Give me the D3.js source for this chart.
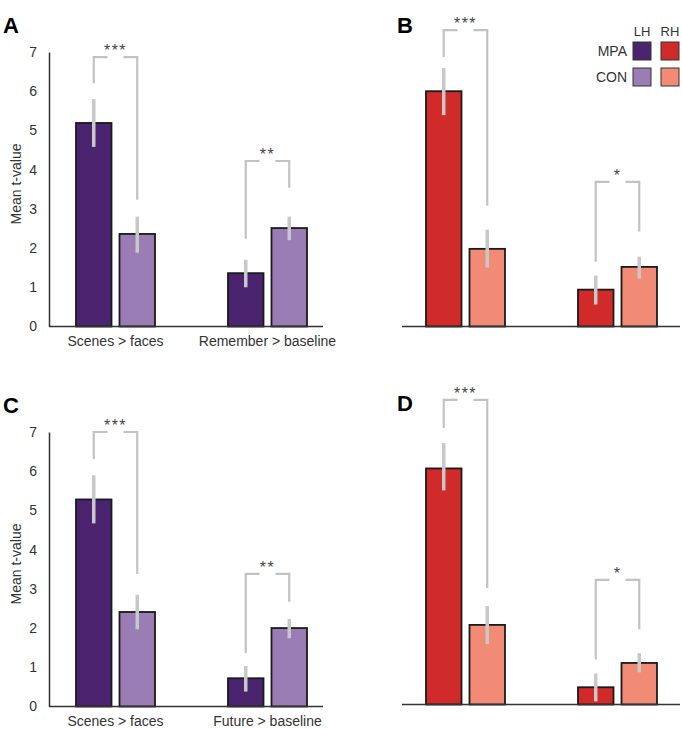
<!DOCTYPE html>
<html>
<head>
<meta charset="utf-8">
<script src="https://cdn.jsdelivr.net/npm/d3@7"></script>
<style>
  body { margin: 0; background: #fff; }
  svg { display: block; font-family: "Liberation Sans", Arial, sans-serif; }
</style>
</head>
<body>
<svg id="chart" width="682" height="729"></svg>
<script>
const groupsTop = ["Scenes > faces", "Remember > baseline"];
const groupsBottom = ["Scenes > faces", "Future > baseline"];
const conditions = ["MPA", "CON"];
const yTicks = [0, 1, 2, 3, 4, 5, 6, 7];

// mean t-values, [group 1, group 2]
const mpaA = [5.19, 1.36], conA = [2.36, 2.51];
const mpaB = [6.0, 0.94], conB = [1.98, 1.52];
const mpaC = [5.28, 0.72], conC = [2.41, 2.0];
const mpaD = [6.02, 0.44], conD = [2.03, 1.06];

// error bar extents [low, high]
const mpaErrA = [[4.58, 5.8], [1.0, 1.7]], conErrA = [[1.88, 2.8], [2.2, 2.8]];
const mpaErrB = [[5.39, 6.59], [0.56, 1.3]], conErrB = [[1.5, 2.47], [1.22, 1.78]];
const mpaErrC = [[4.67, 5.9], [0.38, 1.03]], conErrC = [[1.97, 2.85], [1.74, 2.23]];
const mpaErrD = [[5.46, 6.67], [0.08, 0.79]], conErrD = [[1.54, 2.51], [0.82, 1.31]];

// significance brackets: top, left leg end, right leg end
const sigA = [{ top: 6.87, left: 6.2, right: 3.23, label: "***" }, { top: 4.22, left: 2.24, right: 3.54, label: "**" }];
const sigB = [{ top: 7.56, left: 6.87, right: 3.08, label: "***" }, { top: 3.69, left: 1.65, right: 2.42, label: "*" }];
const sigC = [{ top: 7.0, left: 6.31, right: 3.38, label: "***" }, { top: 3.38, left: 1.36, right: 2.67, label: "**" }];
const sigD = [{ top: 7.77, left: 7.05, right: 2.97, label: "***" }, { top: 3.18, left: 1.15, right: 1.92, label: "*" }];

const colors = {
  LH: { MPA: "#4b2470", CON: "#9a7db5" },
  RH: { MPA: "#d12a2a", CON: "#f18b75" }
};

const panels = [
  { id: "A", dx: 0, dy: 0, hemi: "LH", axis: true, groups: groupsTop, mpa: mpaA, con: conA, mpaErr: mpaErrA, conErr: conErrA, sig: sigA },
  { id: "B", dx: 350, dy: 0, hemi: "RH", axis: false, groups: groupsTop, mpa: mpaB, con: conB, mpaErr: mpaErrB, conErr: conErrB, sig: sigB },
  { id: "C", dx: 0, dy: 380, hemi: "LH", axis: true, groups: groupsBottom, mpa: mpaC, con: conC, mpaErr: mpaErrC, conErr: conErrC, sig: sigC },
  { id: "D", dx: 350, dy: 378, hemi: "RH", axis: false, groups: groupsBottom, mpa: mpaD, con: conD, mpaErr: mpaErrD, conErr: conErrD, sig: sigD }
];

const svg = d3.select("#chart");
svg.append("rect").attr("width", 682).attr("height", 729).attr("fill", "#fff");

const y = d3.scaleLinear().domain([0, 7]).range([326.5, 52]);

panels.forEach(drawPanel);

function drawPanel(p) {
  const g = svg.append("g").attr("transform", `translate(${p.dx},${p.dy})`);

  const gx = d3.scalePoint().domain(p.groups).range([115.5, 267.5]);
  const sub = d3.scaleBand().domain(conditions).range([-39.5, 39.5]).paddingInner(0.184);
  const cx = (grp, c) => gx(grp) + sub(c) + sub.bandwidth() / 2;

  g.append("text")
    .attr("x", p.axis ? 3 : 47)
    .attr("y", 33)
    .attr("font-size", 22)
    .attr("font-weight", "bold")
    .attr("fill", "#000")
    .text(p.id);

  if (p.axis) {
    g.append("g")
      .attr("transform", "translate(49,0)")
      .call(d3.axisLeft(y).tickValues(yTicks).tickSize(0).tickPadding(12).tickFormat(d3.format("d")))
      .call(a => a.select(".domain").attr("stroke", "#333").attr("stroke-width", 1.5))
      .call(a => a.selectAll(".tick text")
        .attr("font-size", 14)
        .attr("font-family", "Liberation Sans, Arial, sans-serif")
        .attr("fill", "#333"));

    g.append("text")
      .attr("transform", "translate(21,184) rotate(-90)")
      .attr("text-anchor", "middle")
      .attr("font-size", 14)
      .attr("fill", "#333")
      .text("Mean t-value");

    g.append("g")
      .selectAll("text")
      .data(p.groups)
      .join("text")
      .attr("x", d => gx(d))
      .attr("y", 346)
      .attr("text-anchor", "middle")
      .attr("font-size", 14)
      .attr("fill", "#333")
      .text(d => d);
  }

  const bars = [];
  p.groups.forEach((grp, i) => {
    bars.push({ grp, cond: "MPA", v: p.mpa[i], err: p.mpaErr[i] });
    bars.push({ grp, cond: "CON", v: p.con[i], err: p.conErr[i] });
  });

  g.append("g")
    .selectAll("rect")
    .data(bars)
    .join("rect")
    .attr("x", d => gx(d.grp) + sub(d.cond))
    .attr("y", d => y(d.v))
    .attr("width", sub.bandwidth())
    .attr("height", d => y(0) - y(d.v))
    .attr("fill", d => colors[p.hemi][d.cond])
    .attr("stroke", "#1a1a1a")
    .attr("stroke-width", 1.8);

  // baseline
  g.append("line")
    .attr("x1", p.axis ? 49 : 52)
    .attr("x2", p.axis ? 323 : 330)
    .attr("y1", y(0))
    .attr("y2", y(0))
    .attr("stroke", "#333")
    .attr("stroke-width", 1.5);

  g.append("g")
    .selectAll("line")
    .data(bars)
    .join("line")
    .attr("x1", d => cx(d.grp, d.cond))
    .attr("x2", d => cx(d.grp, d.cond))
    .attr("y1", d => y(d.err[0]))
    .attr("y2", d => y(d.err[1]))
    .attr("stroke", "#c8c8c8")
    .attr("stroke-width", 3.5);

  const sig = p.sig.map((s, i) => ({ ...s, grp: p.groups[i] }));

  g.append("g")
    .selectAll("path")
    .data(sig)
    .join("path")
    .attr("d", d => {
      const lx = cx(d.grp, "MPA"), rx = cx(d.grp, "CON"), mid = gx(d.grp), t = y(d.top);
      return `M${lx},${y(d.left)}V${t}H${mid - 8}M${mid + 8},${t}H${rx}V${y(d.right)}`;
    })
    .attr("fill", "none")
    .attr("stroke", "#c2c2c2")
    .attr("stroke-width", 2.2);

  g.append("g")
    .selectAll("text")
    .data(sig)
    .join("text")
    .attr("x", d => gx(d.grp))
    .attr("y", d => y(d.top) - 1)
    .attr("text-anchor", "middle")
    .attr("font-size", 16)
    .attr("letter-spacing", 1.5)
    .attr("fill", "#444")
    .text(d => d.label);

  if (p.id === "B") drawLegend(g);
}

function drawLegend(g) {
  const hemis = ["LH", "RH"];
  const lx = d3.scaleBand().domain(hemis).range([283, 329]).paddingInner(0.357);
  const ly = d3.scaleBand().domain(conditions).range([42, 86]).paddingInner(0.308);

  g.append("g")
    .selectAll("text")
    .data(hemis)
    .join("text")
    .attr("x", d => lx(d) + lx.bandwidth() / 2)
    .attr("y", 36)
    .attr("text-anchor", "middle")
    .attr("font-size", 13)
    .attr("fill", "#333")
    .text(d => d);

  g.append("g")
    .selectAll("text")
    .data(conditions)
    .join("text")
    .attr("x", 277)
    .attr("y", d => ly(d) + ly.bandwidth() / 2 + 5)
    .attr("text-anchor", "end")
    .attr("font-size", 14)
    .attr("fill", "#333")
    .text(d => d);

  const cells = [];
  hemis.forEach(h => conditions.forEach(c => cells.push({ h, c })));

  g.append("g")
    .selectAll("rect")
    .data(cells)
    .join("rect")
    .attr("x", d => lx(d.h))
    .attr("y", d => ly(d.c))
    .attr("width", lx.bandwidth())
    .attr("height", ly.bandwidth())
    .attr("fill", d => colors[d.h][d.c])
    .attr("stroke", "#333")
    .attr("stroke-width", 1);
}
</script>
</body>
</html>
